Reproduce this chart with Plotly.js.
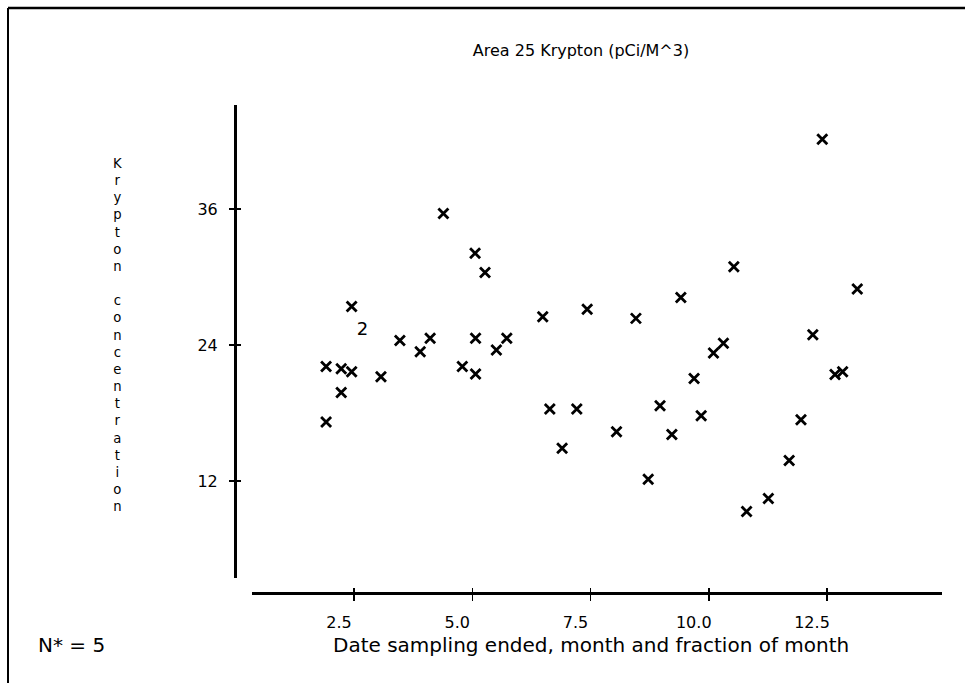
<!DOCTYPE html>
<html>
<head>
<meta charset="utf-8">
<script src="https://cdn.plot.ly/plotly-3.0.1.min.js"></script>
<style>html,body{margin:0;padding:0;background:#fff;}#chart{width:965px;height:683px;}</style>
</head>
<body>
<div id="chart"></div>
<script>
// Data (month and fraction of month vs Krypton concentration)
const monthX = [1.91, 1.91, 2.23, 2.23, 2.45, 2.45, 3.07, 3.47, 3.90, 4.11, 4.39, 4.79, 5.07, 5.07, 5.06,
                5.27, 5.51, 5.73, 6.49, 6.64, 6.90, 7.21, 7.43, 8.05, 8.46, 8.72, 8.97, 9.22, 9.41, 9.69,
                9.84, 10.10, 10.31, 10.53, 10.80, 11.26, 11.70, 11.95, 12.20, 12.40, 12.67, 12.83, 13.14];
const kryptonY = [22.1, 17.2, 21.9, 19.8, 21.65, 27.4, 21.2, 24.4, 23.4, 24.6, 35.6, 22.1, 21.45, 24.6, 32.1,
                  30.4, 23.55, 24.6, 26.5, 18.35, 14.9, 18.35, 27.15, 16.35, 26.35, 12.15, 18.65, 16.1, 28.2, 21.05,
                  17.75, 23.3, 24.15, 30.9, 9.3, 10.45, 13.8, 17.4, 24.9, 42.15, 21.4, 21.65, 28.95];
// Point with two coincident observations, plotted as "2"
const dupX = [2.68];
const dupY = [25.3];
const dupLabel = ['2'];

const xTickVals = [2.5, 5.0, 7.5, 10.0, 12.5];
const xTickText = ['2.5', '5.0', '7.5', '10.0', '12.5'];
const yTickVals = [12, 24, 36];
const yTickText = ['12', '24', '36'];

const titleText = 'Area 25 Krypton (pCi/M^3)';
const xTitleText = 'Date sampling ended, month and fraction of month';
const yTitleText = 'Krypton concentration';
const noteText = 'N* = 5';

const W = 965, H = 683;
const FONT = 'DejaVu Sans, sans-serif';
const px = v => v / W;
const py = v => 1 - v / H;

const xRange = [(252 - 235.75) / 47.3, (942 - 235.75) / 47.3];
const yRange = [(617 - 578) / 11.333, (617 - 105) / 11.333];

const traces = [
  {
    type: 'scatter', mode: 'markers', x: monthX, y: kryptonY,
    marker: {symbol: 'x-thin-open', size: 10, color: '#000', line: {width: 2.8, color: '#000'}},
    hoverinfo: 'x+y', showlegend: false
  },
  {
    type: 'scatter', mode: 'text', x: dupX, y: dupY, text: dupLabel,
    textfont: {family: FONT, size: 18, color: '#000'}, textposition: 'middle center',
    showlegend: false
  },
  {
    type: 'scatter', mode: 'markers', x: [], y: [], xaxis: 'x2', yaxis: 'y2', showlegend: false
  }
];

// stacked, upright letters for the y title
const stacked = yTitleText.split('').map(ch => ch === ' ' ? '&nbsp;' : ch).join('<br>');

const annotations = [
  {text: xTitleText, xref: 'paper', yref: 'paper', x: px(591), y: py(645), xanchor: 'center', yanchor: 'middle',
   showarrow: false, font: {family: FONT, size: 20, color: '#000'}},
  {text: noteText, xref: 'paper', yref: 'paper', x: px(36), y: py(645), xanchor: 'left', yanchor: 'middle',
   showarrow: false, font: {family: FONT, size: 20, color: '#000'}},
  {text: stacked, xref: 'paper', yref: 'paper', x: px(117), y: py(335), xanchor: 'center', yanchor: 'middle',
   align: 'center', showarrow: false, font: {family: FONT, size: 13.2, color: '#000'}}
];

const layout = {
  width: W, height: H,
  margin: {l: 0, r: 0, t: 0, b: 0, autoexpand: false},
  paper_bgcolor: '#fff', plot_bgcolor: 'rgba(0,0,0,0)',
  showlegend: false,
  title: {text: titleText, x: px(581), y: py(50), xanchor: 'center', yanchor: 'middle',
          xref: 'paper', yref: 'paper', font: {family: FONT, size: 16, color: '#000'}},
  xaxis: {
    domain: [px(252), px(942)], range: xRange, anchor: 'free', position: (H - 593) / H,
    showgrid: false, zeroline: false, showline: true, linecolor: '#000', linewidth: 3,
    tickmode: 'array', tickvals: xTickVals, ticktext: xTickText,
    ticks: 'outside', ticklen: 6, tickwidth: 1.5, tickcolor: '#000',
    ticklabelstandoff: 8, ticklabelshift: -15,
    tickfont: {family: FONT, size: 16, color: '#000'}
  },
  yaxis: {
    domain: [1 - 578 / H, 1 - 105 / H], range: yRange, anchor: 'free', position: px(235),
    showgrid: false, zeroline: false, showline: true, linecolor: '#000', linewidth: 2.5,
    tickmode: 'array', tickvals: yTickVals, ticktext: yTickText,
    ticks: 'outside', ticklen: 5, tickwidth: 1.5, tickcolor: '#000',
    ticklabelstandoff: 8,
    tickfont: {family: FONT, size: 16, color: '#000'}
  },
  xaxis2: {
    domain: [px(252), px(942)], range: xRange, anchor: 'free', position: (H - 593) / H, overlaying: 'x',
    showgrid: false, zeroline: false, showline: false, showticklabels: false,
    tickmode: 'array', tickvals: xTickVals, ticks: 'inside', ticklen: 5, tickwidth: 1.5, tickcolor: '#000'
  },
  yaxis2: {
    domain: [1 - 578 / H, 1 - 105 / H], range: yRange, anchor: 'free', position: px(235), overlaying: 'y',
    showgrid: false, zeroline: false, showline: false, showticklabels: false,
    tickmode: 'array', tickvals: yTickVals, ticks: 'inside', ticklen: 5, tickwidth: 1.5, tickcolor: '#000'
  },
  annotations: annotations,
  shapes: [
    {type: 'line', xref: 'paper', yref: 'paper', x0: px(8), x1: px(965), y0: py(8), y1: py(8),
     line: {color: '#000', width: 2.5}},
    {type: 'line', xref: 'paper', yref: 'paper', x0: px(8), x1: px(8), y0: py(8), y1: py(683),
     line: {color: '#000', width: 2}}
  ]
};

Plotly.newPlot('chart', traces, layout, {staticPlot: true, displayModeBar: false});
</script>
</body>
</html>
